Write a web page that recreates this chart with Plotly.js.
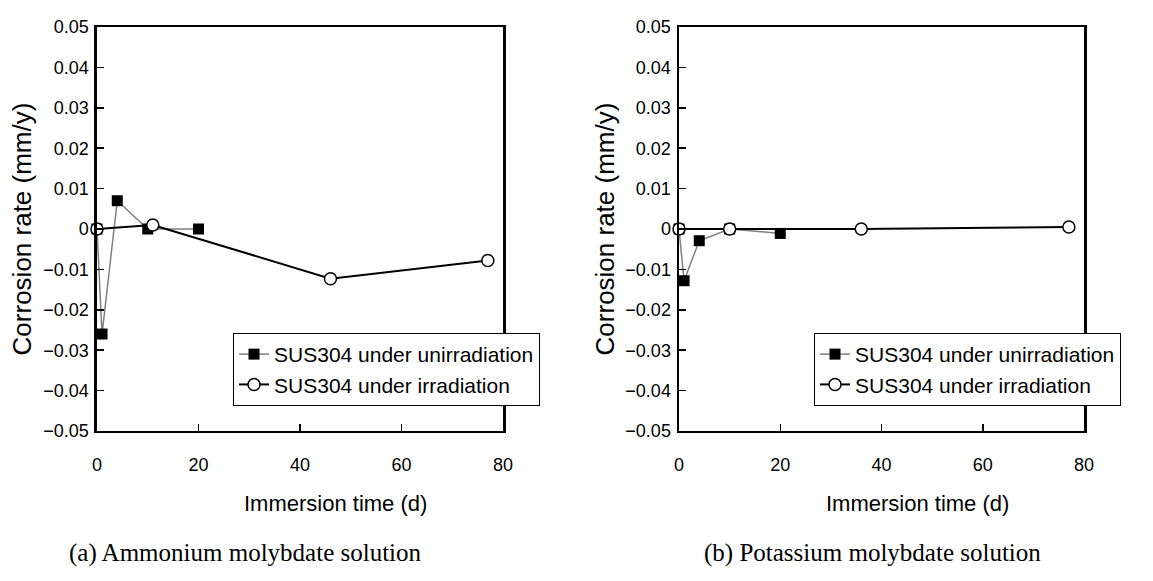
<!DOCTYPE html>
<html><head><meta charset="utf-8">
<script src="https://cdn.plot.ly/plotly-3.0.1.min.js"></script>
<style>html,body{margin:0;padding:0;background:#fff}</style>
</head><body><div id="chart" style="width:1153px;height:581px"></div>
<script>
// ---- data ----
const xTickVals = [0, 20, 40, 60, 80];
const yTickVals = [-0.05, -0.04, -0.03, -0.02, -0.01, 0, 0.01, 0.02, 0.03, 0.04, 0.05];
const yTickText = ['\u22120.05', '\u22120.04', '\u22120.03', '\u22120.02', '\u22120.01', '0', '0.01', '0.02', '0.03', '0.04', '0.05'];

const seriesNames = ['SUS304 under unirradiation', 'SUS304 under irradiation'];

// (a) Ammonium molybdate solution
const aUnirrDays = [0, 1, 4, 10, 20];
const aUnirrRate = [0, -0.026, 0.007, 0, 0];
const aIrrDays = [0, 11, 46, 77];
const aIrrRate = [0, 0.001, -0.0123, -0.0078];

// (b) Potassium molybdate solution
const bUnirrDays = [0, 1, 4, 10, 20];
const bUnirrRate = [0, -0.0128, -0.0029, 0, -0.0011];
const bIrrDays = [0, 10, 36, 77];
const bIrrRate = [0, 0, 0, 0.0005];

const captions = ['(a) Ammonium molybdate solution', '(b) Potassium molybdate solution'];
const xTitle = 'Immersion time (d)';
const yTitle = 'Corrosion rate (mm/y)';

// ---- styles ----
const SANS = '"Liberation Sans", Arial, sans-serif';
const SERIF = '"Liberation Serif", "Times New Roman", serif';

function unirr(x, y, xa, ya, lg) {
  return {x: x, y: y, xaxis: xa, yaxis: ya, legend: lg, name: seriesNames[0],
    type: 'scatter', mode: 'lines+markers', cliponaxis: false,
    line: {color: '#7f7f7f', width: 1.5},
    marker: {symbol: 'square', size: 11, color: '#000', line: {width: 0}}};
}
function irr(x, y, xa, ya, lg) {
  return {x: x, y: y, xaxis: xa, yaxis: ya, legend: lg, name: seriesNames[1],
    type: 'scatter', mode: 'lines+markers', cliponaxis: false,
    line: {color: '#000', width: 2},
    marker: {symbol: 'circle', size: 12, color: '#fff', line: {color: '#000', width: 1.5}}};
}

const traces = [
  unirr(aUnirrDays, aUnirrRate, 'x', 'y', 'legend'),
  irr(aIrrDays, aIrrRate, 'x', 'y', 'legend'),
  unirr(bUnirrDays, bUnirrRate, 'x2', 'y2', 'legend2'),
  irr(bIrrDays, bIrrRate, 'x2', 'y2', 'legend2')
];

function xax(domain, anchor) {
  return {domain: domain, anchor: anchor, range: [0, 80], tickvals: xTickVals,
    ticks: 'inside', ticklen: 7, tickwidth: 1.5, tickcolor: '#000',
    showline: true, linewidth: 2.5, linecolor: '#000', mirror: true,
    showgrid: false, zeroline: false, ticklabelstandoff: 16,
    tickfont: {family: SANS, size: 18, color: '#000'}};
}
function yax(anchor) {
  return {domain: [0.2582, 0.9535], anchor: anchor, range: [-0.05, 0.05],
    tickvals: yTickVals, ticktext: yTickText,
    ticks: 'inside', ticklen: 7, tickwidth: 1.5, tickcolor: '#000',
    showline: true, linewidth: 2.5, linecolor: '#000', mirror: true,
    showgrid: false, zeroline: false, ticklabelstandoff: 2,
    tickfont: {family: SANS, size: 18, color: '#000'},
    title: {text: yTitle, standoff: 4, font: {family: SANS, size: 26, color: '#000'}}};
}
function leg(x) {
  return {x: x, y: 0.4269, xanchor: 'left', yanchor: 'top', bgcolor: '#fff',
    bordercolor: '#000', borderwidth: 1, itemwidth: 30, traceorder: 'normal',
    font: {family: SANS, size: 21, color: '#000'}};
}
function note(text, x, y, font) {
  return {text: text, xref: 'paper', yref: 'paper', x: x, y: y,
    xanchor: 'center', yanchor: 'middle', showarrow: false, font: font};
}
const xTitleFont = {family: SANS, size: 22, color: '#000'};
const captionFont = {family: SERIF, size: 25, color: '#000'};

const layout = {
  width: 1153, height: 581,
  margin: {l: 0, r: 0, t: 0, b: 0},
  paper_bgcolor: '#fff', plot_bgcolor: '#fff',
  showlegend: true,
  xaxis: xax([0.0841, 0.4363], 'y'),
  yaxis: yax('x'),
  xaxis2: xax([0.5889, 0.9402], 'y2'),
  yaxis2: yax('x2'),
  legend: leg(0.2021),
  legend2: leg(0.706),
  annotations: [
    note(xTitle, 335 / 1153, 1 - 503 / 581, xTitleFont),
    note(xTitle, 917 / 1153, 1 - 503 / 581, xTitleFont),
    note(captions[0], 245 / 1153, 1 - 553 / 581, captionFont),
    note(captions[1], 872 / 1153, 1 - 553 / 581, captionFont)
  ]
};

Plotly.newPlot('chart', traces, layout, {displayModeBar: false, staticPlot: true});
</script>
</body></html>
